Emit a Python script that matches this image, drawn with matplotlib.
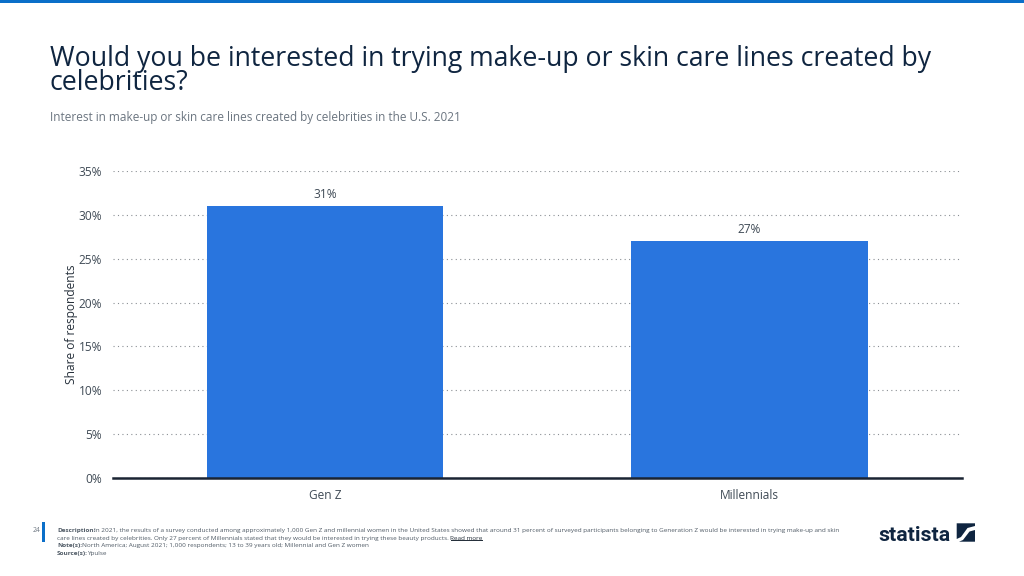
import matplotlib
matplotlib.use('Agg')
import matplotlib.pyplot as plt
from matplotlib.patches import Polygon, Rectangle

plt.rcParams['font.family'] = ['Open Sans', 'DejaVu Sans']

categories = ['Gen Z', 'Millennials']
values = [31, 27]
y_ticks = [0, 5, 10, 15, 20, 25, 30, 35]

W, H = 1024, 576
BLUE = '#2975de'
NAVY = '#0f2540'
GREY = '#3f4a55'


def figX(px):
    return px / W


def figY(py):
    return 1 - py / H


def figPoints(points):
    return [(figX(x), figY(y)) for x, y in points]


fig = plt.figure(figsize=(W / 100, H / 100), dpi=100, facecolor='white')

# top band
fig.add_artist(Rectangle((0, figY(3)), 1, 3 / H, transform=fig.transFigure, color='#0b6fc9', lw=0))

fig.text(figX(49.5), figY(66), 'Would you be interested in trying make-up or skin care lines created by',
         fontsize=19.2, color=NAVY, va='baseline')
fig.text(figX(49.5), figY(90), 'celebrities?', fontsize=19.2, color=NAVY, va='baseline')
fig.text(figX(49.5), figY(120.5), 'Interest in make-up or skin care lines created by celebrities in the U.S. 2021',
         fontsize=8.5, color='#6b7580', va='baseline')

ax = fig.add_axes([figX(112.5), figY(478), (962 - 112.5) / W, (478 - 171) / H])
bars = ax.bar(categories, values, width=0.557, color=BLUE, zorder=2)
ax.set_xlim(-0.5, 1.5)
ax.set_ylim(0, 35)
ax.set_yticks(y_ticks)
ax.set_yticklabels([f'{v}%' for v in y_ticks])
ax.grid(axis='y', color='#8a8f94', linestyle=(0, (1, 3)), linewidth=0.8, zorder=1)
ax.set_axisbelow(True)
for side in ['top', 'right', 'left']:
    ax.spines[side].set_visible(False)
ax.spines['bottom'].set_color('#1a2433')
ax.spines['bottom'].set_linewidth(1.8)
ax.spines['bottom'].set_zorder(3)
ax.tick_params(axis='y', length=0, pad=7.5, labelsize=8.6, labelcolor=GREY)
ax.tick_params(axis='x', length=0, pad=8, labelsize=8.6, labelcolor=GREY)
ax.set_ylabel('Share of respondents', fontsize=8.6, color='#26303b', va='center')
ax.yaxis.set_label_coords((71 - 112.5) / 849.5, 0.5)

for bar, val in zip(bars, values):
    ax.annotate(f'{val}%', (bar.get_x() + bar.get_width() / 2, val), xytext=(0, 3.5),
                textcoords='offset points', ha='center', va='bottom', fontsize=8.6, color=GREY)

# footer
fig.add_artist(Rectangle((figX(42.3), figY(541.5)), 3 / W, 19.5 / H, transform=fig.transFigure,
                         color='#0b6fc9', lw=0))
fig.text(figX(40), figY(532), '24', fontsize=4.8, color='#6b7580', ha='right', va='baseline')

foot = 4.63
foot_col = '#4f5a65'
lines_y = [532, 539.7, 547.5, 555.2]
fig.text(figX(57), figY(lines_y[0]), 'Description:', fontsize=foot, fontweight='bold', color=foot_col)
fig.text(figX(94.5), figY(lines_y[0]),
         'In 2021, the results of a survey conducted among approximately 1,000 Gen Z and millennial women in the '
         'United States showed that around 31 percent of surveyed participants belonging to Generation Z would be '
         'interested in trying make-up and skin', fontsize=foot, color=foot_col)
fig.text(figX(57), figY(lines_y[1]),
         'care lines created by celebrities. Only 27 percent of Millennials stated that they would be interested '
         'in trying these beauty products.', fontsize=foot, color=foot_col)
fig.text(figX(450.5), figY(lines_y[1]), 'Read more', fontsize=foot, color='#26303b')
fig.add_artist(Rectangle((figX(450.5), figY(541)), 32 / W, 0.6 / H, transform=fig.transFigure, color='#26303b', lw=0))
fig.text(figX(57), figY(lines_y[2]), 'Note(s):', fontsize=foot, fontweight='bold', color=foot_col)
fig.text(figX(82), figY(lines_y[2]), 'North America; August 2021; 1,000 respondents; 13 to 39 years old; '
         'Millennial and Gen Z women', fontsize=foot, color=foot_col)
fig.text(figX(57), figY(lines_y[3]), 'Source(s):', fontsize=foot, fontweight='bold', color=foot_col)
fig.text(figX(87.5), figY(lines_y[3]), 'Ypulse', fontsize=foot, color=foot_col)

# logo
fig.text(figX(878.5), figY(541), 'statista', fontsize=15.3, fontweight='bold', color=NAVY, family='Roboto')
fig.add_artist(Polygon(figPoints([(956.7, 523.3), (975, 523.3), (975, 526), (967.5, 528), (961, 537), (956.7, 539)]),
                       transform=fig.transFigure, color=NAVY, lw=0))
fig.add_artist(Polygon(figPoints([(975, 530), (969.5, 531.5), (963, 540), (959, 541.7), (975, 541.7)]),
                       transform=fig.transFigure, color=NAVY, lw=0))

fig.savefig('out.png', dpi=100)
